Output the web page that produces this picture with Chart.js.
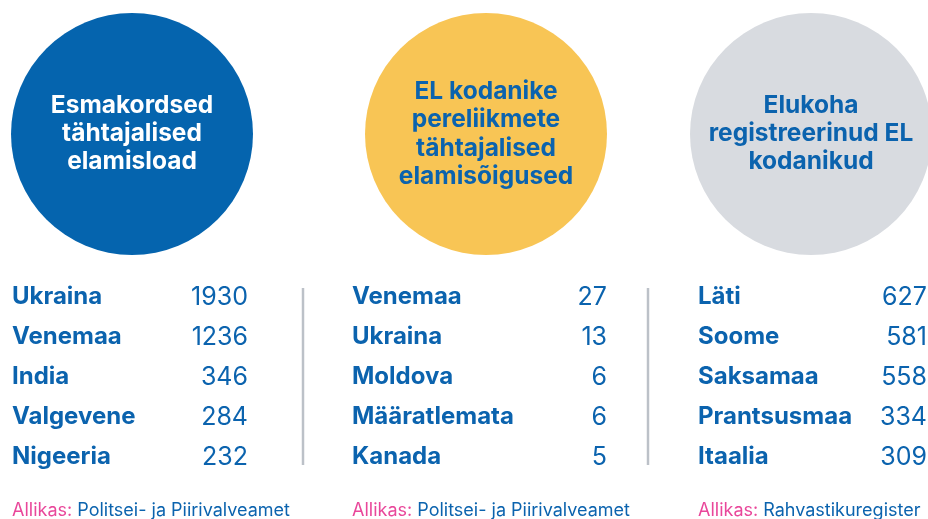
<!DOCTYPE html>
<html lang="et">
<head>
<meta charset="utf-8">
<title>Elamisload ja elamisõigused</title>
<script src="https://cdn.jsdelivr.net/npm/chart.js@4.4.1/dist/chart.umd.min.js"></script>
<style>
  html, body { margin: 0; padding: 0; background: #ffffff; }
  #wrap { position: relative; width: 928px; height: 519px; }
</style>
</head>
<body>
<div id="wrap"><canvas id="infographic"></canvas></div>
<script>
'use strict';

// ---------------------------------------------------------------------------
// Andmed
// ---------------------------------------------------------------------------

const circleTitles = [
    ['Esmakordsed', 'tähtajalised', 'elamisload'],
    ['EL kodanike', 'pereliikmete', 'tähtajalised', 'elamisõigused'],
    ['Elukoha', 'registreerinud EL', 'kodanikud'],
];

const permitCountries = ['Ukraina', 'Venemaa', 'India', 'Valgevene', 'Nigeeria'];
const permitValues    = [1930, 1236, 346, 284, 232];

const familyCountries = ['Venemaa', 'Ukraina', 'Moldova', 'Määratlemata', 'Kanada'];
const familyValues    = [27, 13, 6, 6, 5];

const euCountries = ['Läti', 'Soome', 'Saksamaa', 'Prantsusmaa', 'Itaalia'];
const euValues    = [627, 581, 558, 334, 309];

const sourceLabel = 'Allikas:';
const sources = ['Politsei- ja Piirivalveamet', 'Politsei- ja Piirivalveamet', 'Rahvastikuregister'];

// ---------------------------------------------------------------------------
// Paigutus ja stiil
// ---------------------------------------------------------------------------

const W = 928, H = 519;
const BLUE = '#0b63ae';
const FONT = 'Inter, "Open Sans", sans-serif';

const columns = [
    { cx: 132, fill: '#0564ae', titleColor: '#ffffff', lineGap: 28,   labelX: 12,  valueX: 248, divider: 303, countries: permitCountries, values: permitValues },
    { cx: 486, fill: '#f8c555', titleColor: BLUE,      lineGap: 28.5, labelX: 352, valueX: 607, divider: 648, countries: familyCountries, values: familyValues },
    { cx: 811, fill: '#d8dbe0', titleColor: BLUE,      lineGap: 28,   labelX: 698, valueX: 927, divider: null, countries: euCountries,     values: euValues },
];
const CIRCLE_Y = 134, CIRCLE_R = 121;
const ROW_Y0 = 297, ROW_STEP = 40;
const DIVIDER_TOP = 288, DIVIDER_BOTTOM = 465;
const SOURCE_Y = 511;

// ---------------------------------------------------------------------------
// Tekstid ja jooned (plugin)
// ---------------------------------------------------------------------------

const textPlugin = {
    id: 'infoText',
    afterDatasetsDraw(chart) {
        const { ctx, scales: { x, y } } = chart;
        ctx.save();
        ctx.textBaseline = 'middle';

        columns.forEach((col, ci) => {
            // pealkiri ringis
            const lines = circleTitles[ci];
            const cy = y.getPixelForValue(CIRCLE_Y);
            ctx.fillStyle = col.titleColor;
            ctx.font = `700 24.5px ${FONT}`;
            ctx.textAlign = 'center';
            lines.forEach((line, li) => {
                const ly = cy + (li - (lines.length - 1) / 2) * col.lineGap;
                ctx.fillText(line, x.getPixelForValue(col.cx), ly);
            });

            // tabel
            col.countries.forEach((name, ri) => {
                const ry = y.getPixelForValue(ROW_Y0 + ri * ROW_STEP);
                ctx.fillStyle = BLUE;
                ctx.textAlign = 'left';
                ctx.font = `700 24px ${FONT}`;
                ctx.fillText(name, x.getPixelForValue(col.labelX), ry);
                ctx.textAlign = 'right';
                ctx.font = `400 25px ${FONT}`;
                ctx.fillText(String(col.values[ri]), x.getPixelForValue(col.valueX), ry);
            });

            // eraldusjoon
            if (col.divider !== null) {
                ctx.strokeStyle = '#bcc1c8';
                ctx.lineWidth = 2.5;
                ctx.beginPath();
                ctx.moveTo(x.getPixelForValue(col.divider), y.getPixelForValue(DIVIDER_TOP));
                ctx.lineTo(x.getPixelForValue(col.divider), y.getPixelForValue(DIVIDER_BOTTOM));
                ctx.stroke();
            }

            // allikas
            const sx = x.getPixelForValue(col.labelX);
            const sy = y.getPixelForValue(SOURCE_Y);
            ctx.textAlign = 'left';
            ctx.font = `400 18px ${FONT}`;
            ctx.fillStyle = '#e9479a';
            ctx.fillText(sourceLabel, sx, sy);
            const lw = ctx.measureText(sourceLabel + ' ').width;
            ctx.fillStyle = BLUE;
            ctx.fillText(sources[ci], sx + lw, sy);
        });

        ctx.restore();
    },
};

// ---------------------------------------------------------------------------
// Graafik
// ---------------------------------------------------------------------------

const circleDatasets = columns.map((col, ci) => ({
    label: circleTitles[ci].join(' '),
    data: [{ x: col.cx, y: CIRCLE_Y, r: CIRCLE_R }],
    backgroundColor: col.fill,
    borderWidth: 0,
    hoverRadius: 0,
    clip: false,
}));

new Chart(document.getElementById('infographic'), {
    type: 'bubble',
    data: { datasets: circleDatasets },
    options: {
        responsive: true,
        maintainAspectRatio: false,
        animation: false,
        events: [],
        layout: { padding: 0, autoPadding: false },
        plugins: { legend: { display: false }, tooltip: { enabled: false } },
        scales: {
            x: { type: 'linear', min: 0, max: W, display: false },
            y: { type: 'linear', min: 0, max: H, reverse: true, display: false },
        },
    },
    plugins: [textPlugin],
});
</script>
</body>
</html>
